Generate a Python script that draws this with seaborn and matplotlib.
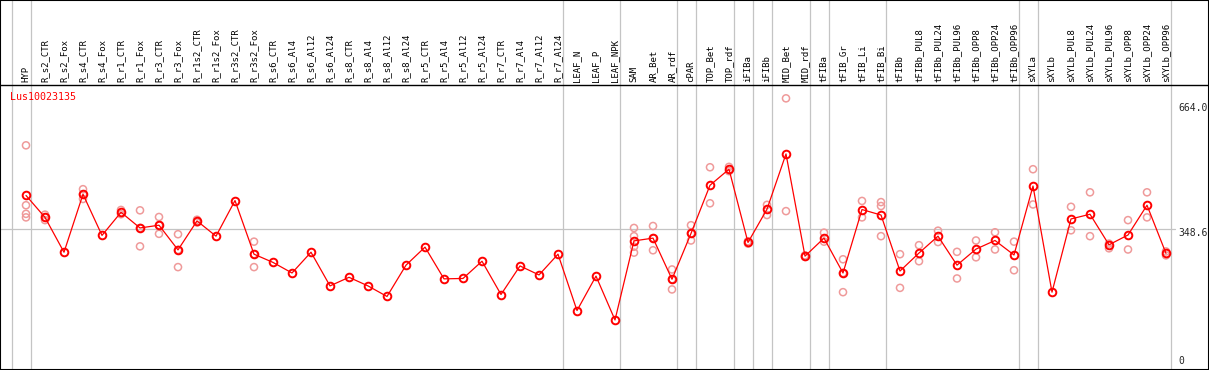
# expression profile plot for one gene across sample groups
import numpy as np
import pandas as pd
import matplotlib
matplotlib.use("Agg")
import matplotlib.pyplot as plt
import seaborn as sns

gene = "Lus10023135"

samples = ["HYP", "R_s2_CTR", "R_s2_Fox", "R_s4_CTR", "R_s4_Fox", "R_r1_CTR", "R_r1_Fox",
           "R_r3_CTR", "R_r3_Fox", "R_r1s2_CTR", "R_r1s2_Fox", "R_r3s2_CTR", "R_r3s2_Fox",
           "R_s6_CTR", "R_s6_Al4", "R_s6_Al12", "R_s6_Al24", "R_s8_CTR", "R_s8_Al4",
           "R_s8_Al12", "R_s8_Al24", "R_r5_CTR", "R_r5_Al4", "R_r5_Al12", "R_r5_Al24",
           "R_r7_CTR", "R_r7_Al4", "R_r7_Al12", "R_r7_Al24", "LEAF_N", "LEAF_P", "LEAF_NPK",
           "SAM", "AR_Bet", "AR_rdf", "cPAR", "TOP_Bet", "TOP_rdf", "iFIBa", "iFIBb",
           "MID_Bet", "MID_rdf", "tFIBa", "tFIB_Gr", "tFIB_Li", "tFIB_Bi", "tFIBb",
           "tFIBb_PUL8", "tFIBb_PUL24", "tFIBb_PUL96", "tFIBb_OPP8", "tFIBb_OPP24",
           "tFIBb_OPP96", "sXYLa", "sXYLb", "sXYLb_PUL8", "sXYLb_PUL24", "sXYLb_PUL96",
           "sXYLb_OPP8", "sXYLb_OPP24", "sXYLb_OPP96"]

means = [433, 377, 288, 436, 331, 390, 350, 357, 294, 368, 329, 420, 283,
         262, 235, 288, 202, 224, 202, 175, 255, 301, 220, 221, 265,
         180, 253, 230, 283, 139, 227, 115,
         317, 324, 219, 336, 459, 500, 313, 398, 539, 278, 324, 235, 397, 383,
         240, 286, 329, 255, 296, 318, 281, 457, 186, 373, 385, 307, 332, 408, 285]

replicates = [[561, 408, 386, 377], [384, 377, 370], [], [449, 424, 436], [], [396, 385],
              [395, 303, 350], [378, 335, 357], [334, 250, 294], [371, 364], [], [],
              [315, 250, 283],
              [], [], [], [], [], [], [], [], [], [], [], [], [], [], [], [], [], [], [],
              [350, 329, 302, 287], [355, 293, 324], [244, 193, 219], [357, 318, 336],
              [505, 413], [506, 495], [310, 316], [409, 383], [681, 393], [276, 280],
              [338, 315], [270, 186, 235], [419, 377], [416, 406, 329],
              [283, 197], [306, 265], [343, 314], [289, 221], [318, 275], [339, 295],
              [315, 242], [500, 410], [], [404, 344], [441, 329], [310, 298],
              [370, 295], [441, 377], [290, 280]]

# group boundaries (line drawn just after these sample indices)
group_ends = [-1, 0, 28, 31, 34, 35, 37, 38, 39, 41, 42, 45, 52, 53, 60]

y_max = 664.0
y_mid = 348.6

mean_df = pd.DataFrame({"pos": np.arange(len(samples)), "value": means})
rep_df = pd.DataFrame([(i, v) for i, reps in enumerate(replicates) for v in reps],
                      columns=["pos", "value"])

sns.set_style("white")
plt.rcParams["font.family"] = ["DejaVu Sans Mono", "DejaVu Sans"]

fig = plt.figure(figsize=(12.09, 3.70), dpi=100)
ax = fig.add_axes([0, 0, 1, 1])

# pixel mapping: x = 26 + 19*i, y = 365 - 0.39157*v
px_per_val = 260 / y_max
ax.set_xlim(-26 / 19, (1209 - 26) / 19)
ax.set_ylim(-5 / px_per_val, 365 / px_per_val)

for g in group_ends:
    ax.axvline(g + 0.25, color="#c4c4c4", lw=0.9, zorder=1)
ax.plot([-26 / 19, (1175 - 26) / 19], [y_mid, y_mid], color="#c4c4c4", lw=0.9, zorder=1)
ax.axhline((365 - 85) / px_per_val, color="black", lw=1.0, zorder=2)

sns.scatterplot(data=rep_df, x="pos", y="value", marker="o", s=26, linewidth=1.1,
                ax=ax, zorder=3, legend=False)
ax.collections[-1].set_facecolor("none")
ax.collections[-1].set_edgecolor("#ef9a9a")

sns.lineplot(data=mean_df, x="pos", y="value", color="red", lw=0.9, marker="o",
             markersize=5.5, markerfacecolor="none", markeredgecolor="red",
             markeredgewidth=1.4, ax=ax, zorder=4)

# rotated sample names in the header
for i, name in enumerate(samples):
    ax.text(i, (365 - 82) / px_per_val, name, rotation=90, ha="center", va="bottom",
            fontsize=6.5, color="black")

ax.text(-0.84, (365 - 97) / px_per_val, gene, color="red", fontsize=7.2,
        ha="left", va="center")
x_lab = (1178 - 26) / 19
ax.text(x_lab, (365 - 103) / px_per_val, f"{y_max:.1f}", fontsize=7, ha="left", va="top")
ax.text(x_lab, (365 - 228) / px_per_val, f"{y_mid:.1f}", fontsize=7, ha="left", va="top")
ax.text(x_lab, (365 - 366) / px_per_val, "0", fontsize=7, ha="left", va="bottom")

ax.set_xlabel("")
ax.set_ylabel("")
ax.set_xticks([])
ax.set_yticks([])
for s in ax.spines.values():
    s.set_visible(True)
    s.set_color("black")
    s.set_linewidth(1.5)

plt.savefig("out.png", dpi=100)
